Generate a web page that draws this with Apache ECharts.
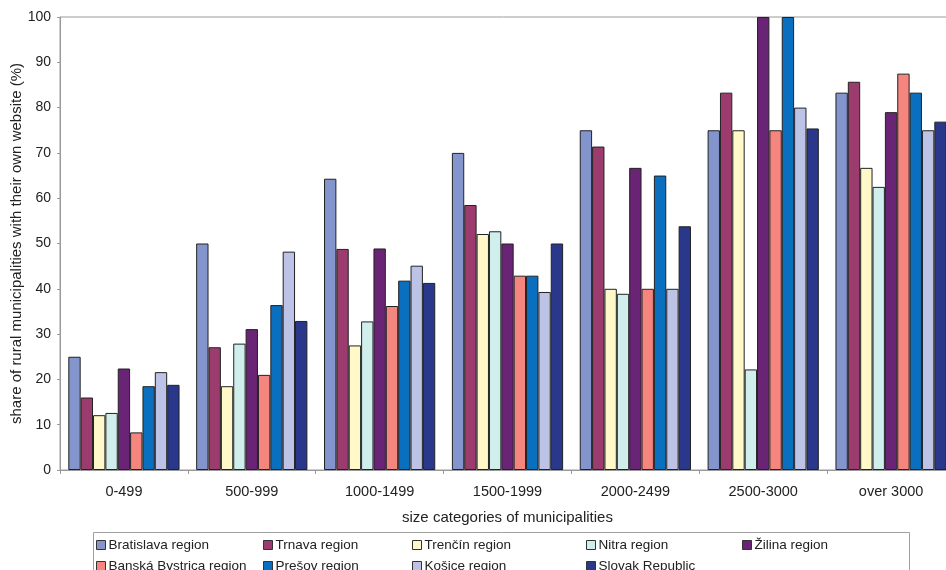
<!DOCTYPE html>
<html>
<head>
<meta charset="utf-8">
<script src="https://cdn.jsdelivr.net/npm/echarts@6/dist/echarts.min.js"></script>
<style>
  html, body { margin: 0; padding: 0; background: #fff; }
  #chart { width: 946px; height: 570px; }
</style>
</head>
<body>
<div id="chart"></div>
<script>
// Size categories of municipalities (x axis)
const categories = ['0-499', '500-999', '1000-1499', '1500-1999', '2000-2499', '2500-3000', 'over 3000'];

// Share of rural municipalities with their own website (%), by region
const bratislava = [25.0, 50.0, 64.3, 70.0, 75.0, 75.0, 83.3];
const trnava = [16.0, 27.1, 48.8, 58.5, 71.4, 83.3, 85.7];
const trencin = [12.1, 18.5, 27.5, 52.1, 40.0, 75.0, 66.7];
const nitra = [12.6, 27.9, 32.8, 52.7, 38.9, 22.2, 62.5];
const zilina = [22.4, 31.1, 48.9, 50.0, 66.7, 100.0, 79.0];
const banskaBystrica = [8.3, 21.0, 36.2, 42.9, 40.0, 75.0, 87.5];
const presov = [18.5, 36.4, 41.8, 42.9, 65.0, 100.0, 83.3];
const kosice = [21.6, 48.2, 45.1, 39.3, 40.0, 80.0, 75.0];
const slovakia = [18.8, 32.9, 41.3, 50.0, 53.8, 75.4, 76.9];

const seriesNames = ['Bratislava region', 'Trnava region', 'Trenčín region', 'Nitra region', 'Žilina region',
  'Banská Bystrica region', 'Prešov region', 'Košice region', 'Slovak Republic'];
const seriesValues = [bratislava, trnava, trencin, nitra, zilina, banskaBystrica, presov, kosice, slovakia];
const seriesColors = ['#8494CC', '#9C3B6E', '#FFF8C8', '#D0EEEC', '#6A2475', '#F5857F', '#0A6FBE', '#BCC3E6', '#29388A'];

const yTicks = { min: 0, max: 100, interval: 10 };

const font = 'Liberation Sans, Arial, sans-serif';

const chart = echarts.init(document.getElementById('chart'), null, { renderer: 'canvas' });

// Legend: five columns, two rows, one entry per legend component
const legendColLeft = [96, 263, 412, 586, 742];
const legendRowTop = [538, 559];

const legends = seriesNames.map((name, i) => ({
  left: legendColLeft[i % 5],
  top: legendRowTop[Math.floor(i / 5)],
  itemWidth: 9,
  itemHeight: 9,
  icon: 'rect',
  padding: 0,
  selectedMode: false,
  itemStyle: { borderColor: '#333', borderWidth: 1 },
  textStyle: { fontFamily: font, fontSize: 13.5, color: '#222', padding: [0, 0, 0, -2] },
  data: [name]
}));

chart.setOption({
  animation: false,
  backgroundColor: '#fff',
  grid: {
    left: 60, top: 17, width: 895, height: 453,
    outerBoundsMode: 'none',
    show: true, borderColor: '#9a9a9a', borderWidth: 1, backgroundColor: 'transparent'
  },
  legend: legends,
  graphic: [{
    type: 'rect',
    shape: { x: 93.5, y: 532.5, width: 816, height: 60 },
    style: { fill: 'none', stroke: '#a0a0a0', lineWidth: 1 },
    z: -1
  }],
  xAxis: {
    type: 'category',
    data: categories,
    boundaryGap: true,
    name: 'size categories of municipalities',
    nameLocation: 'middle',
    nameGap: 40,
    nameMoveOverlap: false,
    nameTextStyle: { fontFamily: font, fontSize: 15, color: '#222' },
    axisLine: { lineStyle: { color: '#9a9a9a', width: 1 } },
    axisTick: { show: true, length: 4, alignWithLabel: false, lineStyle: { color: '#9a9a9a' } },
    axisLabel: { fontFamily: font, fontSize: 14.5, color: '#222', margin: 14 }
  },
  yAxis: {
    type: 'value',
    min: yTicks.min,
    max: yTicks.max,
    interval: yTicks.interval,
    name: 'share of rural municipalities with their own website (%)',
    nameLocation: 'middle',
    nameGap: 36,
    nameRotate: 90,
    nameMoveOverlap: false,
    nameTextStyle: { fontFamily: font, fontSize: 15, color: '#222' },
    axisLine: { show: true, lineStyle: { color: '#9a9a9a', width: 1 } },
    axisTick: { show: true, length: 3, lineStyle: { color: '#9a9a9a' } },
    splitLine: { show: false },
    axisLabel: { fontFamily: font, fontSize: 14, color: '#222', margin: 9 }
  },
  series: seriesNames.map((name, i) => ({
    name: name,
    type: 'bar',
    data: seriesValues[i],
    barGap: '0%',
    barCategoryGap: '13%',
    itemStyle: { color: seriesColors[i], borderColor: '#222', borderWidth: 1 }
  }))
});
</script>
</body>
</html>
